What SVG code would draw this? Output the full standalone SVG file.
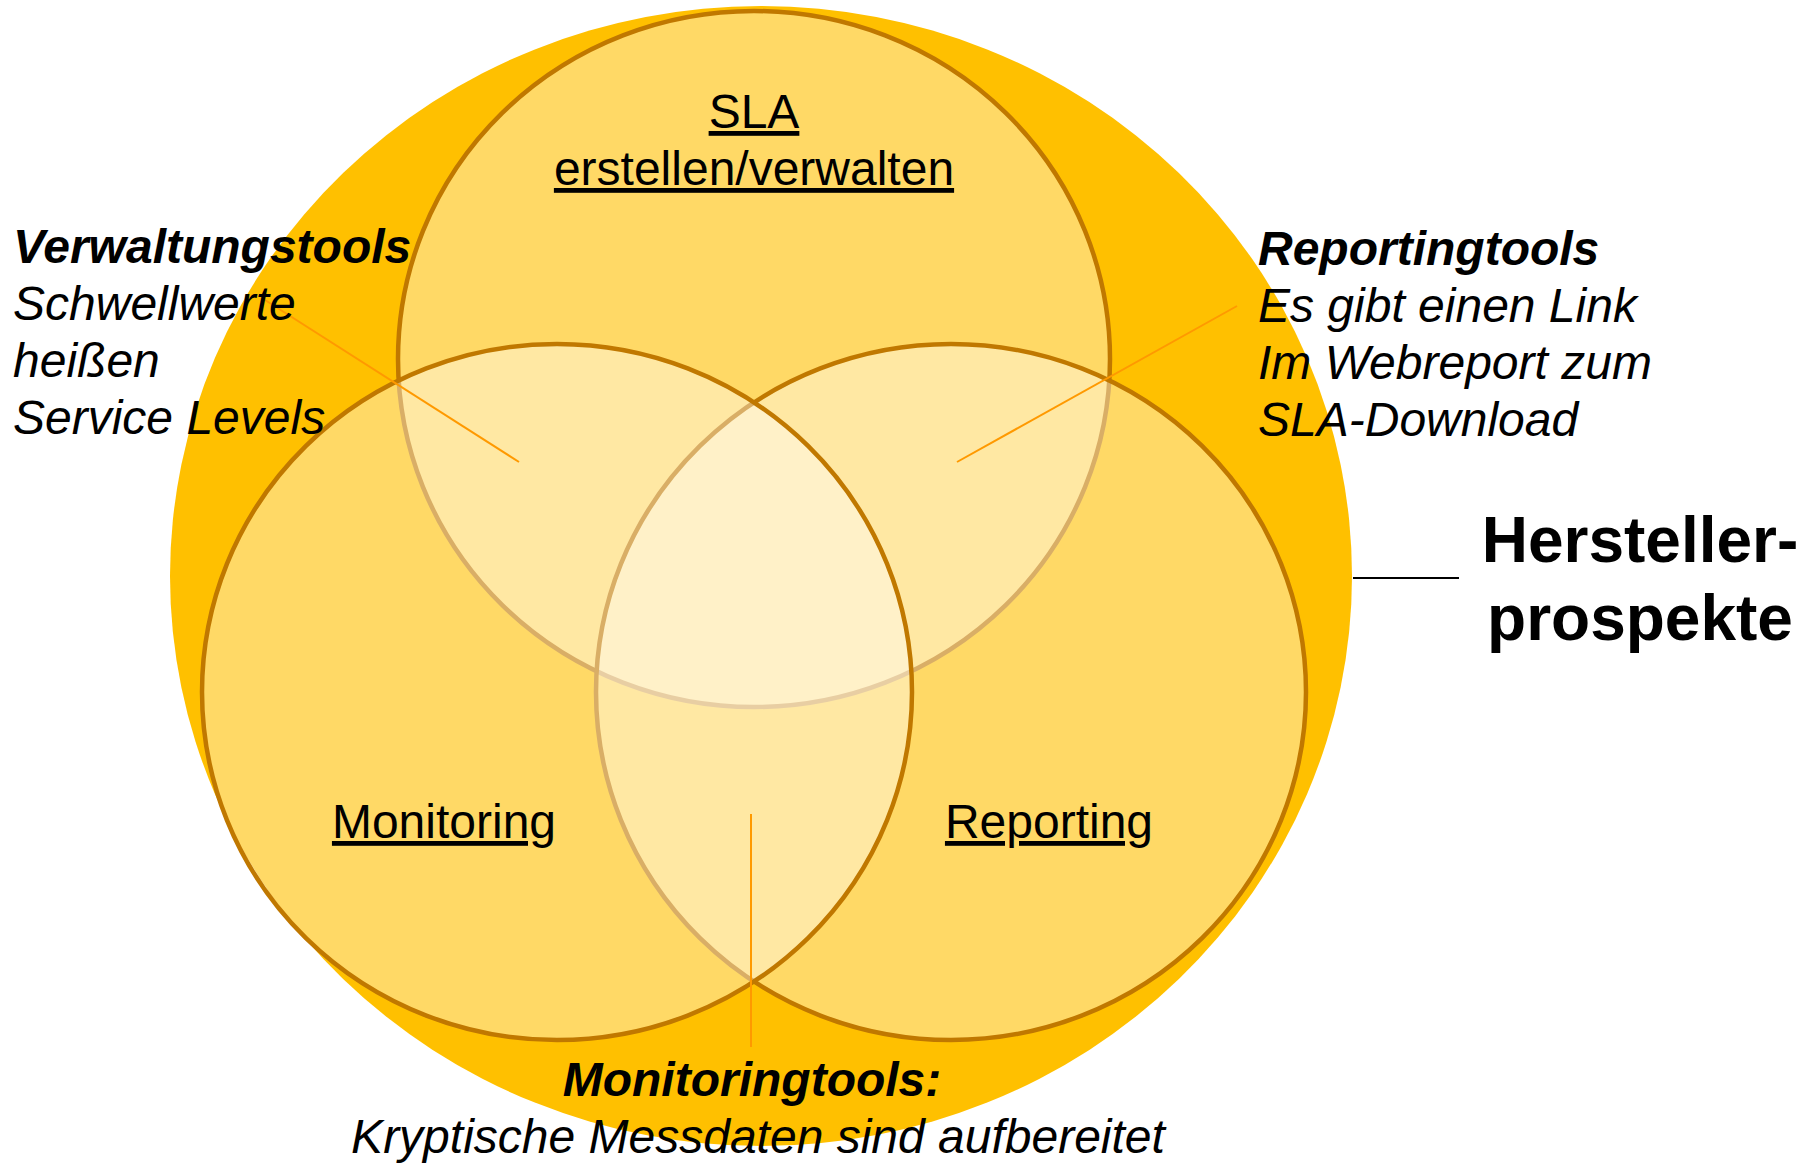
<svg xmlns="http://www.w3.org/2000/svg" width="1816" height="1164" viewBox="0 0 1816 1164">
<style>
.set{fill:#FFFFFF;fill-opacity:0.4;stroke:#C07800;stroke-width:4.5}
.t{font-family:"Liberation Sans",Arial,sans-serif;font-size:48px;fill:#000}
.u{text-decoration:underline}
.i{font-style:italic}
.b{font-weight:bold}
.lead{stroke:#FF9900;stroke-width:2;fill:none}
</style>
<rect width="1816" height="1164" fill="#FFFFFF"/>
<g id="hersteller-ellipse">
<ellipse cx="761" cy="576" rx="591" ry="570" fill="#FFC000"/>
</g>
<g id="sla">
<ellipse class="set" cx="754" cy="359" rx="356" ry="348"/>
</g>
<g id="reporting">
<ellipse class="set" cx="951" cy="692" rx="355" ry="348"/>
</g>
<g id="monitoring">
<ellipse class="set" cx="557" cy="692" rx="355" ry="348"/>
</g>
<g id="connectors">
<line class="lead" x1="265" y1="300" x2="519" y2="462"/>
<line class="lead" x1="1237" y1="306" x2="957" y2="462"/>
<line class="lead" x1="751" y1="814" x2="751" y2="1047"/>
<line x1="1353" y1="578" x2="1459" y2="578" stroke="#000" stroke-width="2"/>
</g>
<g id="sla-label">
<text class="t u" x="754" y="128" text-anchor="middle">SLA</text>
<text class="t u" x="754" y="185" text-anchor="middle">erstellen/verwalten</text>
</g>
<g id="monitoring-label">
<text class="t u" x="444" y="838" text-anchor="middle">Monitoring</text>
</g>
<g id="reporting-label">
<text class="t u" x="1049" y="838" text-anchor="middle">Reporting</text>
</g>
<g id="verwaltungstools">
<text class="t i b" x="13" y="263">Verwaltungstools</text>
<text class="t i" x="13" y="320">Schwellwerte</text>
<text class="t i" x="13" y="377">heißen</text>
<text class="t i" x="13" y="434">Service Levels</text>
</g>
<g id="reportingtools">
<text class="t i b" x="1258" y="265">Reportingtools</text>
<text class="t i" x="1258" y="322">Es gibt einen Link</text>
<text class="t i" x="1258" y="379">Im Webreport zum</text>
<text class="t i" x="1258" y="436">SLA-Download</text>
</g>
<g id="monitoringtools">
<text class="t i b" x="752" y="1096" text-anchor="middle">Monitoringtools:</text>
<text class="t i" x="758" y="1153" text-anchor="middle">Kryptische Messdaten sind aufbereitet</text>
</g>
<g id="hersteller-label">
<text class="t b" x="1640" y="562" text-anchor="middle" style="font-size:64px">Hersteller-</text>
<text class="t b" x="1640" y="640" text-anchor="middle" style="font-size:64px">prospekte</text>
</g>
</svg>
